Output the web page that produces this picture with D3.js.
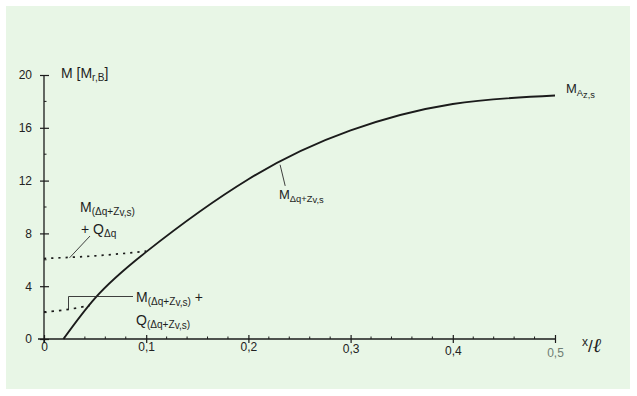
<!DOCTYPE html>
<html>
<head>
<meta charset="utf-8">
<script src="https://cdn.jsdelivr.net/npm/d3@7"></script>
<style>
  html, body { margin: 0; padding: 0; background: #ffffff; }
  svg { display: block; font-family: "Liberation Sans", Arial, sans-serif; }
</style>
</head>
<body>
<svg id="chart" width="637" height="396"></svg>
<script>
// Moment curve M(x/l) in units of M_r,B
const momentX = [0.019, 0.05, 0.1, 0.2, 0.3, 0.4, 0.5];
const momentY = [0, 3.1, 6.6, 12.1, 15.8, 17.8, 18.45];

// Dotted plateau: M(dq+Zv,s) + Q_dq
const upperDotX = [0, 0.05, 0.1];
const upperDotY = [6.1, 6.3, 6.65];

// Dotted plateau: M(dq+Zv,s) + Q(dq+Zv,s)
const lowerDotX = [0, 0.02, 0.045];
const lowerDotY = [2.05, 2.2, 2.55];

const xTicks = [0, 0.1, 0.2, 0.3, 0.4, 0.5];
const xTickLabels = ["0", "0,1", "0,2", "0,3", "0,4", "0,5"];
const yTicks = [0, 4, 8, 12, 16, 20];
const yTickLabels = ["0", "4", "8", "12", "16", "20"];

const svg = d3.select("#chart");
const W = 637, H = 396;

// paper background
svg.append("rect").attr("x", 0).attr("y", 0).attr("width", W).attr("height", H).attr("fill", "#ffffff");
svg.append("rect").attr("x", 6).attr("y", 6).attr("width", 624).attr("height", 383).attr("fill", "#e8f6e6");

const x = d3.scaleLinear().domain([0, 0.5]).range([44, 555]);
const y = d3.scaleLinear().domain([0, 20]).range([339, 75]);

const ink = "#1b1b1b";

// x axis
const gx = svg.append("g").attr("transform", `translate(0,${y(0)})`)
  .call(d3.axisBottom(x).tickValues(xTicks).tickFormat((d, i) => xTickLabels[i]).tickSizeOuter(0).tickSize(4).tickPadding(8));
gx.select(".domain").attr("stroke", ink).attr("stroke-width", 1.4).attr("d", `M${x(0) - 6},0H${x(0.5)}`);
gx.selectAll(".tick line").attr("stroke", ink).attr("stroke-width", 1.2).attr("y1", -4).attr("y2", 4);
gx.selectAll(".tick text").attr("fill", "#222").attr("font-size", 12).attr("dy", (d, i) => (i >= 3 ? 2 + (i - 3) * 2 : 0) + "px");
gx.selectAll(".tick").filter(d => d === 0.5).select("text").attr("fill", "#6f7d74");

// minor x ticks
svg.append("g").selectAll("line")
  .data(d3.range(0.02, 0.5, 0.02).filter(v => Math.abs(v * 10 - Math.round(v * 10)) > 1e-6))
  .join("line")
  .attr("x1", d => x(d)).attr("x2", d => x(d))
  .attr("y1", y(0) - 2.5).attr("y2", y(0))
  .attr("stroke", ink).attr("stroke-width", 1);

// y axis
const gy = svg.append("g").attr("transform", `translate(${x(0)},0)`)
  .call(d3.axisLeft(y).tickValues(yTicks).tickFormat((d, i) => yTickLabels[i]).tickSizeOuter(0).tickSize(4).tickPadding(8));
gy.select(".domain").attr("stroke", ink).attr("stroke-width", 1.3).attr("d", `M0,${y(0) + 4}V${y(20)}`);
gy.selectAll(".tick line").attr("stroke", ink).attr("stroke-width", 1.2).attr("x1", -4).attr("x2", 5);
gy.selectAll(".tick text").attr("fill", "#222").attr("font-size", 12);

// minor y ticks
svg.append("g").selectAll("line")
  .data([2, 6, 10, 14, 18])
  .join("line")
  .attr("x1", x(0)).attr("x2", x(0) + 2.5)
  .attr("y1", d => y(d)).attr("y2", d => y(d))
  .attr("stroke", ink).attr("stroke-width", 1);

// moment curve
const line = d3.line().x(d => x(d[0])).y(d => y(d[1])).curve(d3.curveNatural);
svg.append("path")
  .datum(momentX.map((v, i) => [v, momentY[i]]))
  .attr("d", line).attr("fill", "none").attr("stroke", ink).attr("stroke-width", 1.9);

// dotted plateaus
const dotLine = d3.line().x(d => x(d[0])).y(d => y(d[1])).curve(d3.curveMonotoneX);
svg.append("path")
  .datum(upperDotX.map((v, i) => [v, upperDotY[i]]))
  .attr("d", dotLine).attr("fill", "none").attr("stroke", ink)
  .attr("stroke-width", 1.7).attr("stroke-dasharray", "2.2 5");
svg.append("path")
  .datum(lowerDotX.map((v, i) => [v, lowerDotY[i]]))
  .attr("d", dotLine).attr("fill", "none").attr("stroke", ink)
  .attr("stroke-width", 1.7).attr("stroke-dasharray", "2.5 5");

// label leaders
const leaders = svg.append("g").attr("stroke", "#2a2a2a").attr("stroke-width", 0.9).attr("fill", "none");
leaders.append("path").attr("d", `M68.5,310V296.5H133`);
leaders.append("line").attr("x1", x(0.025)).attr("y1", y(6.15)).attr("x2", x(0.045)).attr("y2", y(7.8));
leaders.append("line").attr("x1", x(0.231)).attr("y1", y(13.2)).attr("x2", x(0.236)).attr("y2", y(11.6));

// text helper with subscripts
function label(xp, yp, parts, size) {
  const t = svg.append("text").attr("x", xp).attr("y", yp).attr("font-size", size).attr("fill", "#1e1e1e");
  parts.forEach(p => {
    const s = t.append("tspan").text(p.t);
    if (p.sub) s.attr("font-size", size * 0.72).attr("dy", p.dy !== undefined ? p.dy : 3);
    if (p.up) s.attr("dy", p.up);
  });
  return t;
}

// y axis title
label(61, 78, [{ t: "M [M" }, { t: "r,B", sub: true, dy: 3 }, { t: "]", up: -3 }], 14);

// curve end label
label(566, 93, [{ t: "M" }, { t: "A", sub: true, dy: 3 }, { t: "z,s", sub: true, dy: 1.5 }], 13);

// curve label
label(279, 199, [{ t: "M" }, { t: "Δq+Z", sub: true, dy: 3 }, { t: "v,s", sub: true, dy: 1 }], 13);

// upper plateau label
label(80, 212, [{ t: "M" }, { t: "(Δq+Z", sub: true, dy: 3 }, { t: "v,s", sub: true, dy: 1 }, { t: ")", sub: true, dy: -1 }], 14);
label(81, 234, [{ t: "+ Q" }, { t: "Δq", sub: true, dy: 3 }], 14);

// lower plateau label
label(136, 302, [{ t: "M" }, { t: "(Δq+Z", sub: true, dy: 3 }, { t: "v,s", sub: true, dy: 1 }, { t: ")", sub: true, dy: -1 }, { t: " +", up: -3 }], 14);
label(136, 325, [{ t: "Q" }, { t: "(Δq+Z", sub: true, dy: 3 }, { t: "v,s", sub: true, dy: 1 }, { t: ")", sub: true, dy: -1 }], 14);

// x axis title
const xt = svg.append("text").attr("x", 582).attr("y", 346).attr("fill", "#1e1e1e").attr("font-size", 12);
xt.append("tspan").text("x");
xt.append("tspan").text("/").attr("font-size", 17).attr("dy", 6);
xt.append("tspan").text("ℓ").attr("font-size", 20).attr("font-style", "italic").attr("font-family", "DejaVu Serif").attr("dy", 0);
</script>
</body>
</html>
